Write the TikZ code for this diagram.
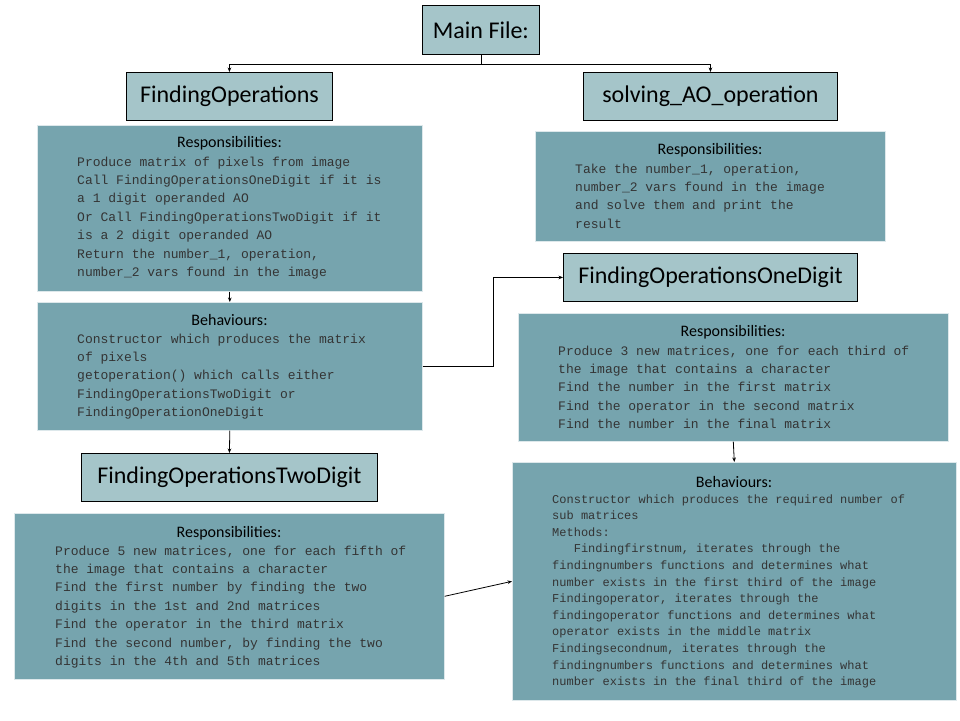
\documentclass[tikz,border=0pt]{standalone}
\usepackage{fontspec}
\setmainfont{Carlito}
\newfontfamily\cour{Liberation Mono}
\usetikzlibrary{arrows.meta}
\definecolor{darkteal}{RGB}{118,164,174}
\definecolor{lightteal}{RGB}{165,197,201}
\definecolor{bodytxt}{RGB}{52,52,52}
\tikzset{
  titlebox/.style={draw=black, line width=0.9pt, fill=lightteal, font=\fontsize{24}{28}\selectfont, inner sep=0pt, anchor=north west},
  infobox/.style={draw=white!75!darkteal, line width=0.6pt, fill=darkteal, inner sep=0pt, anchor=north west},
  hdr/.style={font=\fontsize{16}{19}\selectfont, inner sep=0pt, text=black},
  bodytext/.style={inner sep=0pt, anchor=base west, text=bodytxt},
  arr/.style={line width=0.8pt, -{Stealth[length=4.5pt,width=3.6pt]}},
}
\begin{document}
\begin{tikzpicture}[x=1pt,y=-1pt]
\useasboundingbox (0,0) rectangle (960,720);
% title boxes
\node[titlebox, minimum width=117pt, minimum height=49pt] (main) at (422,5) {Main File:};
\node[titlebox, minimum width=206pt, minimum height=48pt] (fo) at (126,72) {FindingOperations};
\node[titlebox, minimum width=254pt, minimum height=48pt] (sao) at (583,72) {solving\_AO\_operation};
\node[titlebox, minimum width=294pt, minimum height=48pt] (one) at (563,253) {FindingOperationsOneDigit};
\node[titlebox, minimum width=296pt, minimum height=48pt] (two) at (81,453) {FindingOperationsTwoDigit};
% info boxes
\node[infobox, minimum width=385pt, minimum height=166pt] (r1) at (37,125) {};
\node[infobox, minimum width=385pt, minimum height=128pt] (b1) at (37,302) {};
\node[infobox, minimum width=430pt, minimum height=166pt] (r3) at (14,513) {};
\node[infobox, minimum width=350pt, minimum height=110pt] (rs) at (535,131) {};
\node[infobox, minimum width=430pt, minimum height=128pt] (r2) at (518,313) {};
\node[infobox, minimum width=444pt, minimum height=238pt] (b2) at (512,462) {};
% headers
\node[hdr] (r1h) at (229.5,143) {Responsibilities:};
\node[hdr] (b1h) at (229.5,320) {Behaviours:};
\node[hdr] (r3h) at (229,533) {Responsibilities:};
\node[hdr] (rsh) at (710,150) {Responsibilities:};
\node[hdr] (r2h) at (733,332) {Responsibilities:};
\node[hdr] (b2h) at (734,482) {Behaviours:};
% bodies
\renewcommand{\arraystretch}{1}
\node[bodytext] (r1t) at (77,166) {{\cour\fontsize{13}{18.4}\selectfont\begin{tabular}[t]{@{}l@{}}Produce matrix of pixels from image\\Call FindingOperationsOneDigit if it is\\a 1 digit operanded AO\\Or Call FindingOperationsTwoDigit if it\\is a 2 digit operanded AO\\Return the number\_1, operation,\\number\_2 vars found in the image\end{tabular}}};
\node[bodytext] (b1t) at (77,343) {{\cour\fontsize{13}{18.4}\selectfont\begin{tabular}[t]{@{}l@{}}Constructor which produces the matrix\\of pixels\\getoperation() which calls either\\FindingOperationsTwoDigit or\\FindingOperationOneDigit\end{tabular}}};
\node[bodytext] (r3t) at (55,555) {{\cour\fontsize{13}{18.4}\selectfont\begin{tabular}[t]{@{}l@{}}Produce 5 new matrices, one for each fifth of\\the image that contains a character\\Find the first number by finding the two\\digits in the 1st and 2nd matrices\\Find the operator in the third matrix\\Find the second number, by finding the two\\digits in the 4th and 5th matrices\end{tabular}}};
\node[bodytext] (rst) at (575,173) {{\cour\fontsize{13}{18.4}\selectfont\begin{tabular}[t]{@{}l@{}}Take the number\_1, operation,\\number\_2 vars found in the image\\and solve them and print the\\result\end{tabular}}};
\node[bodytext] (r2t) at (558,355) {{\cour\fontsize{13}{18.4}\selectfont\begin{tabular}[t]{@{}l@{}}Produce 3 new matrices, one for each third of\\the image that contains a character\\Find the number in the first matrix\\Find the operator in the second matrix\\Find the number in the final matrix\end{tabular}}};
\node[bodytext] (b2t) at (552,503) {{\cour\fontsize{12}{16.6}\selectfont\begin{tabular}[t]{@{}l@{}}Constructor which produces the required number of\\sub matrices\\Methods:\\\ \ \ Findingfirstnum, iterates through the\\findingnumbers functions and determines what\\number exists in the first third of the image\\Findingoperator, iterates through the\\findingoperator functions and determines what\\operator exists in the middle matrix\\Findingsecondnum, iterates through the\\findingnumbers functions and determines what\\number exists in the final third of the image\end{tabular}}};
% connectors
\coordinate (split) at ([yshift=-9pt]main.south);
\draw[line width=0.8pt] (main.south) -- (split);
\draw[arr] (split) -| (fo.north);
\draw[arr] (split) -| (sao.north);
\draw[arr] (r1.south) -- (b1.north);
\draw[arr] (b1.south) -- (two.north);
\draw[arr] (b1.east) -- ++(71,0) |- (one.west);
\draw[arr] (r2.south) -- (b2.north);
\draw[arr] (r3.east) -- (b2.west);
\end{tikzpicture}
\end{document}
